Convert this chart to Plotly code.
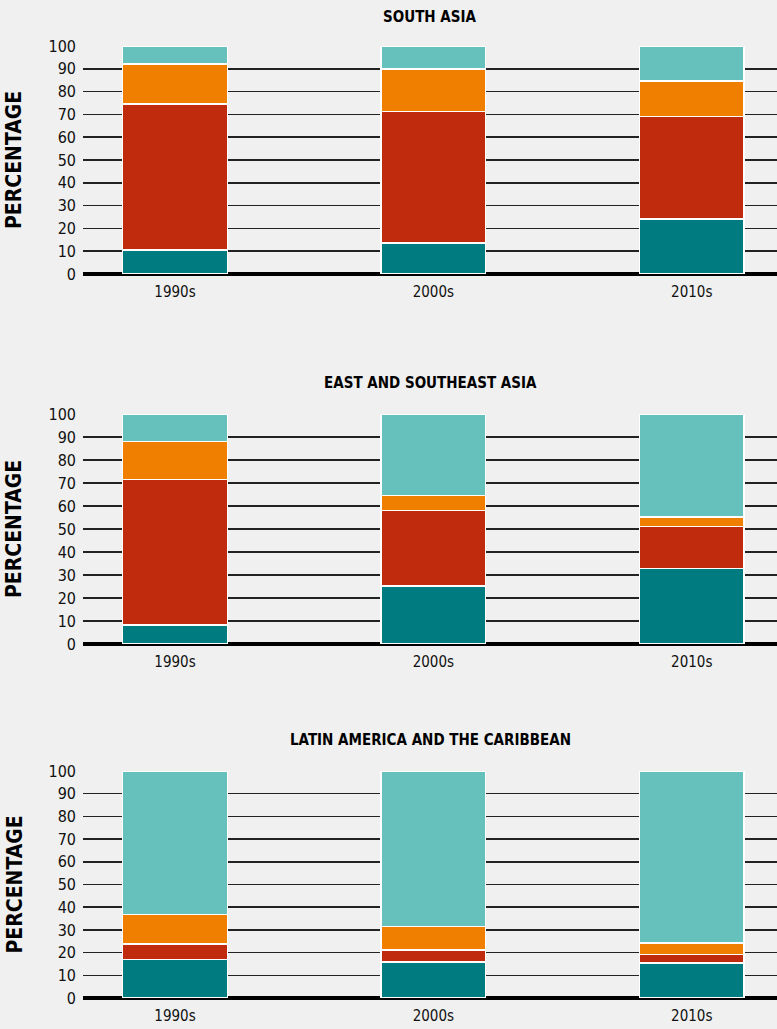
import plotly.graph_objects as go

categories = ["1990s", "2000s", "2010s"]
regions = ["SOUTH ASIA", "EAST AND SOUTHEAST ASIA", "LATIN AMERICA AND THE CARIBBEAN"]

# segment values per region (bottom to top)
sa_teal = [10.5, 13.7, 24.1]
sa_red = [64.1, 57.5, 44.9]
sa_orange = [17.4, 18.7, 15.6]
sa_light = [8.0, 10.1, 15.4]

esa_teal = [8.3, 25.2, 32.8]
esa_red = [63.3, 32.8, 18.2]
esa_orange = [16.4, 6.6, 4.2]
esa_light = [12.0, 35.4, 44.8]

lac_teal = [17.0, 15.9, 15.5]
lac_red = [6.8, 5.3, 3.6]
lac_orange = [12.9, 10.4, 5.2]
lac_light = [63.3, 68.4, 75.7]

tick_vals = [0, 10, 20, 30, 40, 50, 60, 70, 80, 90, 100]
colors = ["#007C80", "#C02B0D", "#F07F00", "#66C0BC"]

data = [
    [sa_teal, sa_red, sa_orange, sa_light],
    [esa_teal, esa_red, esa_orange, esa_light],
    [lac_teal, lac_red, lac_orange, lac_light],
]

W, H = 777, 1029
# pixel positions of panels (top, bottom)
panels_px = [(46, 274), (414, 644), (771, 998)]
title_px = [17, 383, 740]
x_left = 83

FONT = "DejaVu Sans Condensed, Liberation Sans Narrow, sans-serif"

fig = go.Figure()
for i, series in enumerate(data):
    xa = "x" if i == 0 else f"x{i+1}"
    ya = "y" if i == 0 else f"y{i+1}"
    for s, col in zip(series, colors):
        fig.add_trace(go.Bar(
            x=categories, y=s, xaxis=xa, yaxis=ya,
            marker=dict(color=col, line=dict(color="white", width=1.5)),
            width=0.405, showlegend=False, hoverinfo="skip",
        ))
    top, bot = panels_px[i]
    dom = [(H - bot) / H, (H - top) / H]
    xkey = "xaxis" if i == 0 else f"xaxis{i+1}"
    ykey = "yaxis" if i == 0 else f"yaxis{i+1}"
    fig.layout[xkey] = dict(
        domain=[x_left / W, 1.0], range=[-0.356, 2.33], anchor=ya,
        showgrid=False, showline=False, zeroline=False, ticks="",
        tickfont=dict(family=FONT, size=15, color="#111"),
        ticklabelstandoff=7, automargin=False,
        fixedrange=True,
    )
    fig.layout[ykey] = dict(
        domain=dom, range=[0, 100], anchor=xa,
        tickvals=tick_vals, showgrid=True, gridcolor="#222", gridwidth=1.5,
        zeroline=True, zerolinecolor="#000", zerolinewidth=3.5,
        showline=False, ticks="", ticklabelstandoff=6, automargin=False,
        tickfont=dict(family=FONT, size=16, color="#111"),
        fixedrange=True,
    )
    fig.add_annotation(
        x=(x_left + W) / 2 / W, y=(H - title_px[i]) / H, xref="paper", yref="paper",
        text=f"<b>{regions[i]}</b>", showarrow=False,
        font=dict(family=FONT, size=15, color="#000"), xanchor="center", yanchor="middle",
    )
    fig.add_annotation(
        x=14 / W, y=(H - (top + bot) / 2) / H, xref="paper", yref="paper",
        text="<b>PERCENTAGE</b>", textangle=-90, showarrow=False,
        font=dict(family=FONT, size=21, color="#000"),
        xanchor="center", yanchor="middle",
    )

fig.update_layout(
    barmode="stack", width=W, height=H,
    margin=dict(l=0, r=0, t=0, b=0, autoexpand=False),
    paper_bgcolor="#F0F0F0", plot_bgcolor="#F0F0F0",
)
fig.write_html(
    "out.html",
    config={"displayModeBar": False, "staticPlot": True},
    post_script="document.body.style.margin='0';document.body.style.overflow='hidden';document.documentElement.style.background='#F0F0F0';",
)
